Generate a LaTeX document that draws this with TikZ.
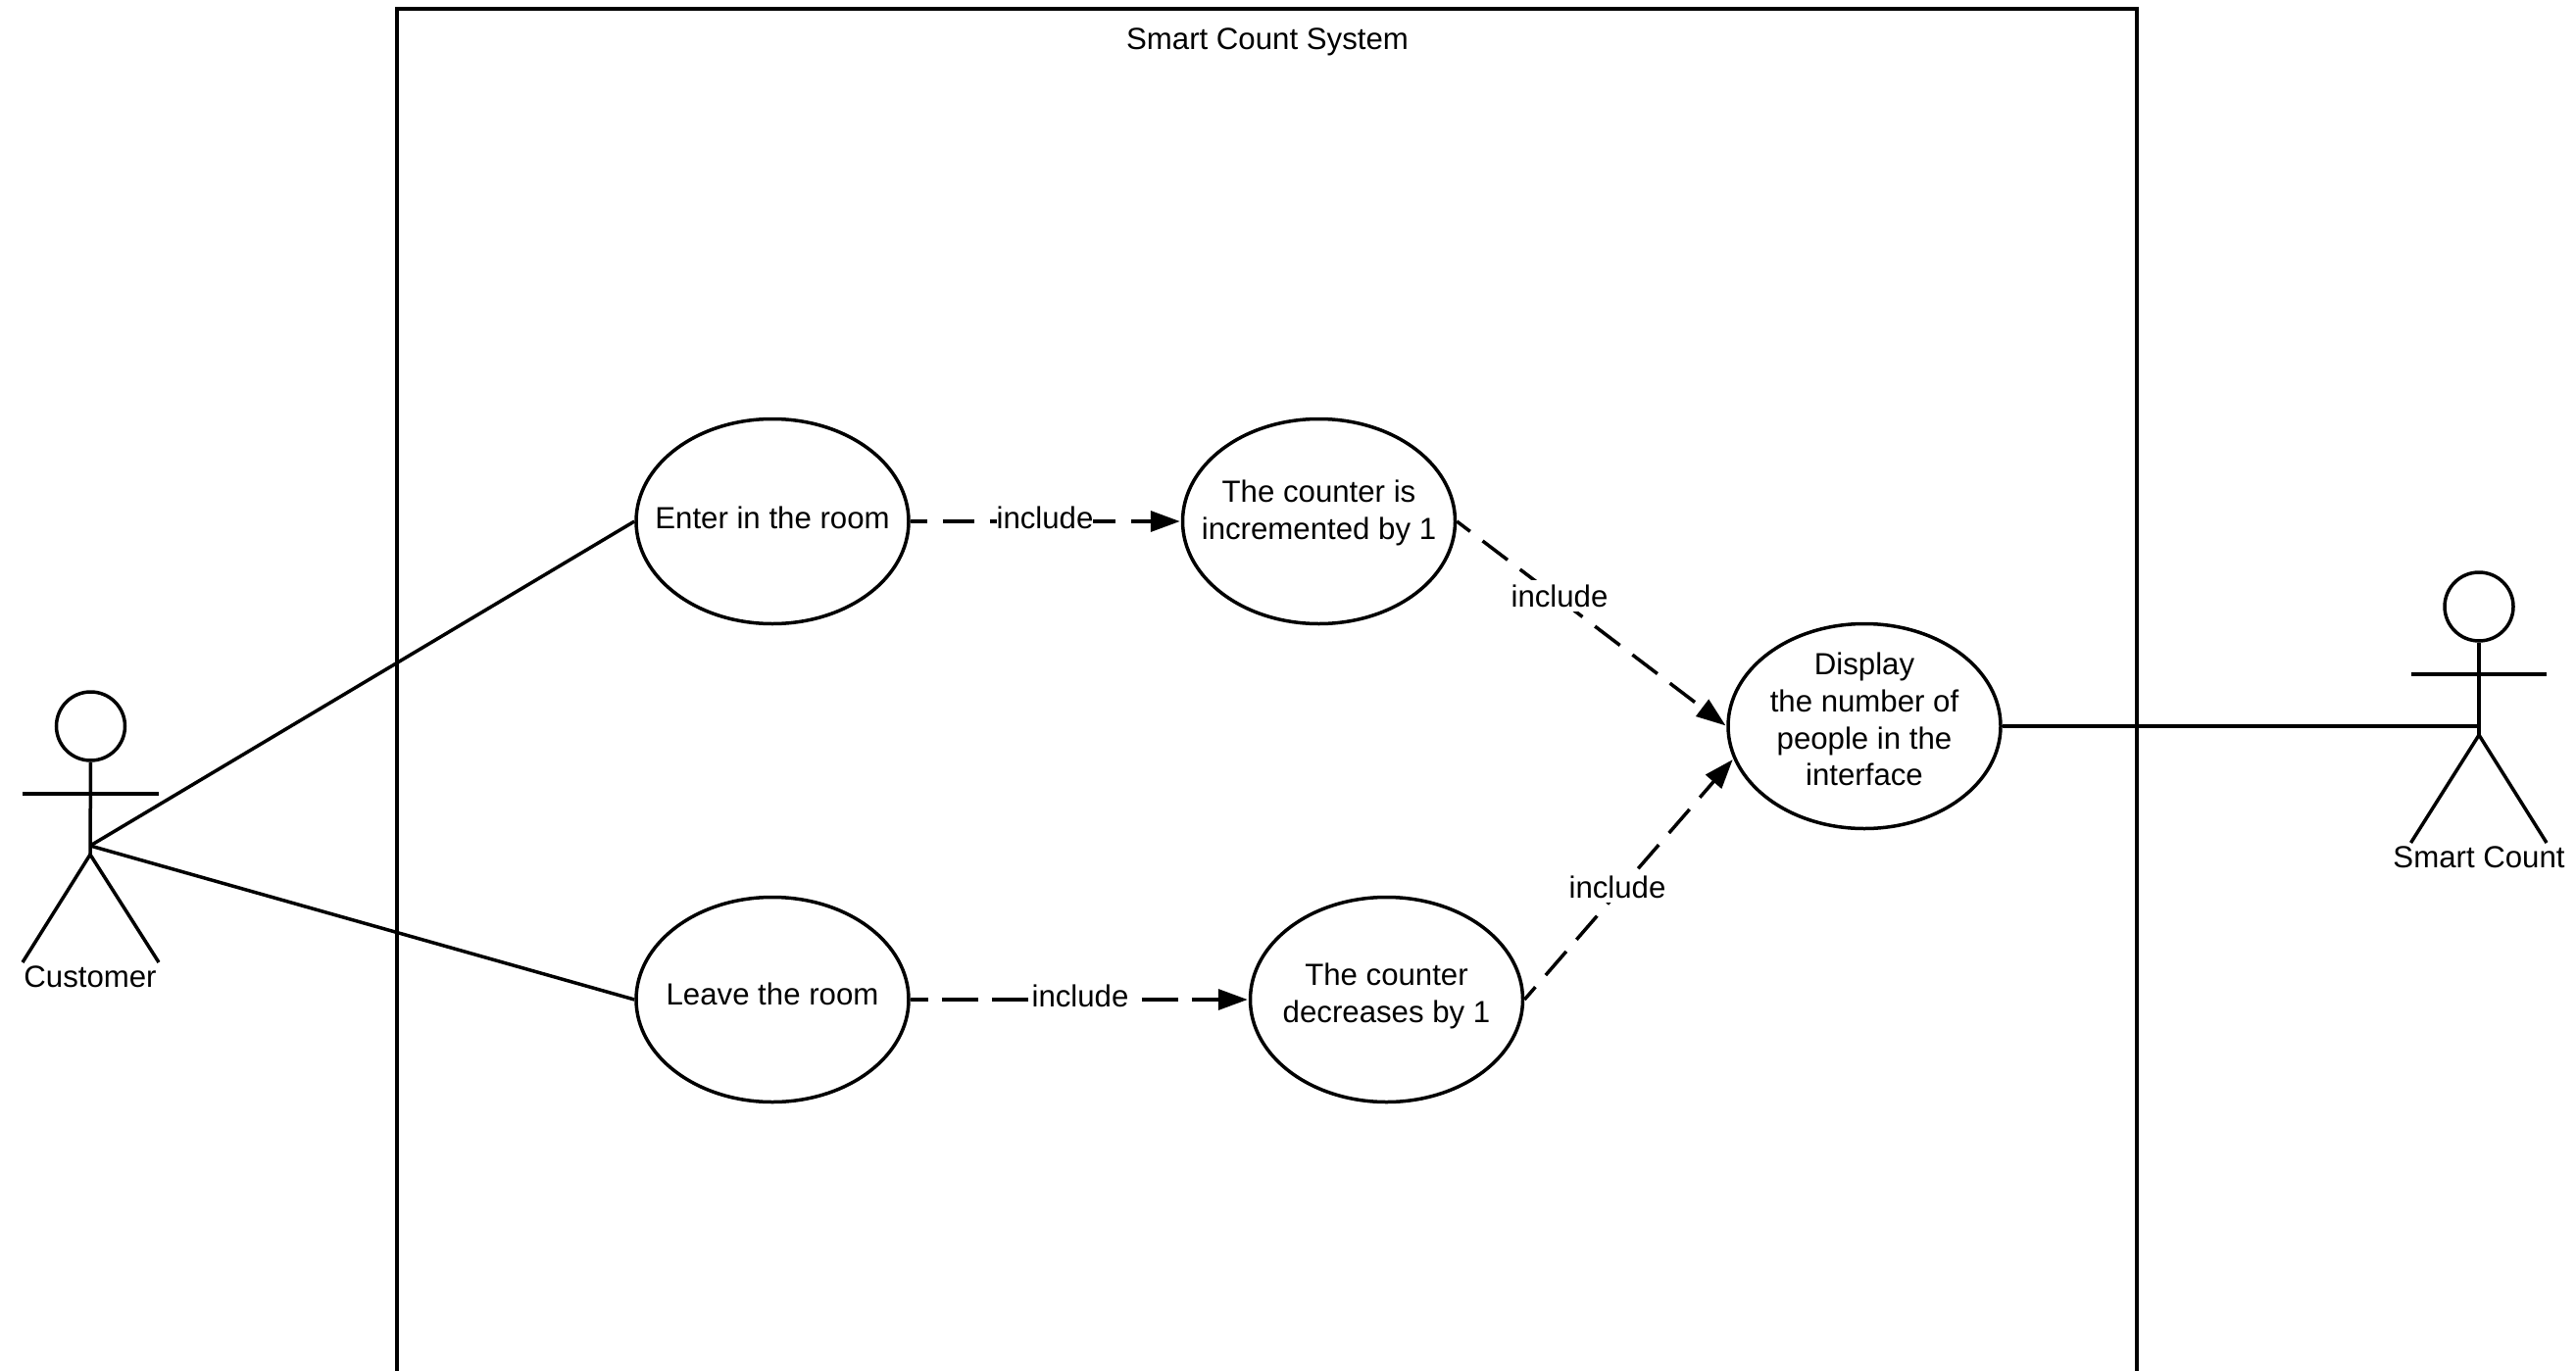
\documentclass[tikz,border=0pt]{standalone}
\usepackage{fontspec}
\setmainfont{Liberation Sans}
\usetikzlibrary{shapes.geometric,arrows.meta}
\tikzset{
  x=1pt,y=-1pt,
  every node/.style={font=\fontsize{31.2}{37.7}\selectfont,text=black},
  usecase/.style={ellipse,draw=black,line width=3.5pt,fill=white,minimum width=278pt,minimum height=209pt,inner sep=0pt},
  txt/.style={align=center,inner sep=0pt},
  stroke/.style={line width=3.5pt,draw=black},
  assoc/.style={stroke},
  incl/.style={stroke,dash pattern=on 32pt off 16pt,dash phase=15pt,-{Triangle[length=30pt,width=21pt]},shorten >=1pt},
  incllong/.style={incl,dash pattern=on 37pt off 14pt,dash phase=19pt},
  lbl/.style={fill=white,inner xsep=0pt,inner ysep=5pt},
  head/.style={circle,draw=black,line width=3.5pt,minimum size=70pt,inner sep=0pt,fill=white}
}
\begin{document}
\begin{tikzpicture}
\useasboundingbox (0,0) rectangle (2628,1399);
% system boundary, open at the bottom of the page
\coordinate (fbl) at (405,1399);
\coordinate (ftl) at (405,9);
\coordinate (ftr) at (2180,9);
\coordinate (fbr) at (2180,1399);
\draw[stroke] (fbl) -- (ftl) -- (ftr) -- (fbr);
\node[txt] (sys) at (1293,43) {Smart Count System};

% customer actor
\node[head] (chead) at (92.5,741) {};
\coordinate (cneck) at (92,872);
\coordinate (chip) at (92,863);
\coordinate (carml) at (23,810);
\coordinate (carmr) at (162,810);
\coordinate (clegl) at (23,982);
\coordinate (clegr) at (162,982);
\draw[stroke] (chead.south) -- (cneck);
\draw[stroke] (carml) -- (carmr);
\draw[stroke] (clegl) -- (cneck) -- (clegr);
\node[txt] (cust) at (92,997) {Customer};

% smart count actor
\node[head] (shead) at (2529,619) {};
\coordinate (sneck) at (2529,750);
\coordinate (ship) at (2529,741);
\coordinate (sarml) at (2459.5,688);
\coordinate (sarmr) at (2598,688);
\coordinate (slegl) at (2459.5,860);
\coordinate (slegr) at (2598,860);
\draw[stroke] (shead.south) -- (sneck);
\draw[stroke] (sarml) -- (sarmr);
\draw[stroke] (slegl) -- (sneck) -- (slegr);
\node[txt] (smart) at (2529,875) {Smart Count};

% use cases
\node[usecase] (enter) at (788,532) {};
\node[usecase] (counter) at (1345.5,532) {};
\node[usecase] (leave) at (788,1020) {};
\node[usecase] (decr) at (1414.5,1020) {};
\node[usecase] (disp) at (1902,741) {};
\node[txt,yshift=4pt] (enterT) at (enter) {Enter in the room};
\node[txt,yshift=8.5pt] (counterT) at (counter) {The counter is\\incremented by 1};
\node[txt,yshift=5.5pt] (leaveT) at (leave) {Leave the room};
\node[txt,yshift=3.5pt] (decrT) at (decr) {The counter\\decreases by 1};
\node[txt,yshift=7pt] (dispT) at (disp) {Display\\the number of\\people in the\\interface};

% associations
\draw[assoc] (chip) -- (enter.west);
\draw[assoc] (chip) -- (leave.west);
\draw[assoc] (disp.east) -- (ship);

% includes
\draw[incl] (enter.east) -- (counter.west);
\draw[incllong] (leave.east) -- (decr.west);
\draw[incl] (counter.east) -- (disp.west);
\draw[incl] (decr.east) -- (disp.194);
\node[lbl,inner ysep=0pt] (l1) at (1066,528) {include};
\node[lbl,inner ysep=0pt] (l2) at (1102,1016) {include};
\node[lbl] (l3) at (1591,608) {include};
\node[lbl] (l4) at (1650,905) {include};
\end{tikzpicture}
\end{document}
